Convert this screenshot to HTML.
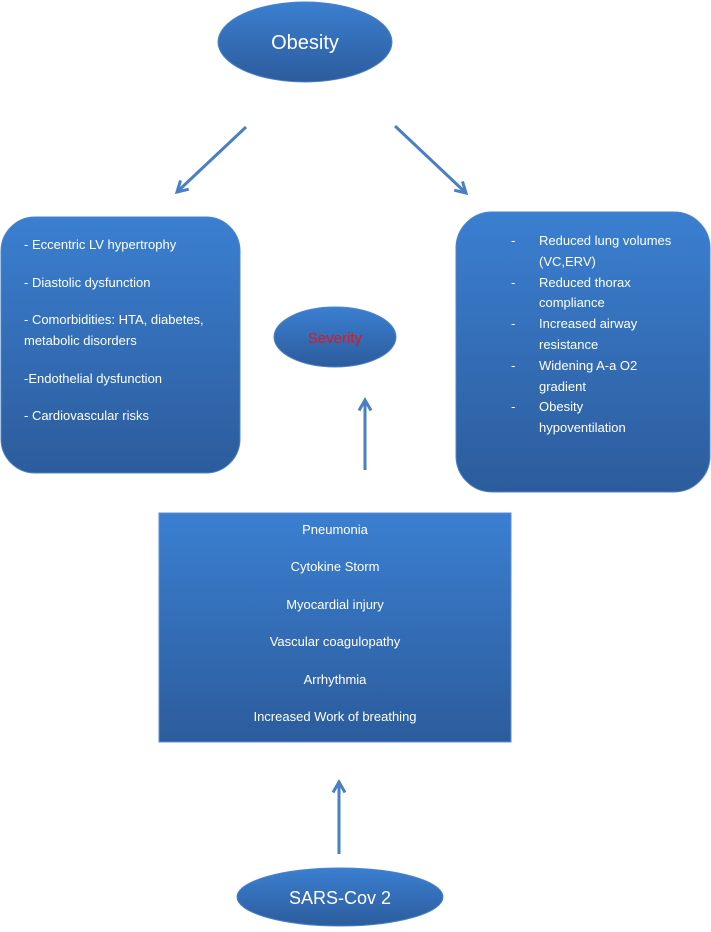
<!DOCTYPE html>
<html><head><meta charset="utf-8"><style>
body{margin:0;width:711px;height:927px;background:#fff;overflow:hidden}
svg text{font-family:"Liberation Sans",sans-serif;fill:#fff}
</style></head><body>
<svg width="711" height="927" viewBox="0 0 711 927" xmlns="http://www.w3.org/2000/svg">
<defs>
<linearGradient id="g" x1="0" y1="0" x2="0" y2="1">
<stop offset="0" stop-color="#3b7fd1"/><stop offset="1" stop-color="#2c5c9c"/>
</linearGradient>
<marker id="ah" viewBox="0 0 10 10" refX="8" refY="5" markerWidth="5" markerHeight="5" orient="auto">
<path d="M1,1 L8,5 L1,9" fill="none" stroke="#4a7fc4" stroke-width="2"/>
</marker>
</defs>
<g stroke="#4a7fc4" stroke-width="3" fill="none" marker-end="url(#ah)">
<line x1="246" y1="127" x2="177" y2="192"/>
<line x1="395" y1="126" x2="466" y2="193"/>
<line x1="365" y1="470" x2="365" y2="400"/>
<line x1="339" y1="854" x2="339" y2="782"/>
</g>
<ellipse cx="305" cy="42" rx="87" ry="40" fill="url(#g)" stroke="#4d84c8"/>
<text x="305" y="49" font-size="20" text-anchor="middle">Obesity</text>
<rect x="1" y="217" width="239" height="256" rx="34" fill="url(#g)" stroke="#4d84c8"/>
<g font-size="13">
<text x="24" y="249">- Eccentric LV hypertrophy</text>
<text x="24" y="287">- Diastolic dysfunction</text>
<text x="24" y="324">- Comorbidities: HTA, diabetes,</text>
<text x="24" y="345">metabolic disorders</text>
<text x="24" y="383">-Endothelial dysfunction</text>
<text x="24" y="420">- Cardiovascular risks</text>
</g>
<rect x="456" y="212" width="254" height="280" rx="36" fill="url(#g)" stroke="#4d84c8"/>
<g font-size="13">
<text x="511" y="245">-</text><text x="539" y="245">Reduced lung volumes</text>
<text x="539" y="266">(VC,ERV)</text>
<text x="511" y="287">-</text><text x="539" y="287">Reduced thorax</text>
<text x="539" y="307">compliance</text>
<text x="511" y="328">-</text><text x="539" y="328">Increased airway</text>
<text x="539" y="349">resistance</text>
<text x="511" y="370">-</text><text x="539" y="370">Widening A-a O2</text>
<text x="539" y="391">gradient</text>
<text x="511" y="411">-</text><text x="539" y="411">Obesity</text>
<text x="539" y="432">hypoventilation</text>
</g>
<ellipse cx="335" cy="337" rx="61" ry="30" fill="url(#g)" stroke="#4d84c8"/>
<text x="335" y="343" font-size="15" text-anchor="middle" style="fill:#e8141c">Severity</text>
<rect x="159" y="513" width="352" height="229" fill="url(#g)" stroke="#5a8fd0"/>
<g font-size="13" text-anchor="middle">
<text x="335" y="534">Pneumonia</text>
<text x="335" y="571">Cytokine Storm</text>
<text x="335" y="609">Myocardial injury</text>
<text x="335" y="646">Vascular coagulopathy</text>
<text x="335" y="684">Arrhythmia</text>
<text x="335" y="721">Increased Work of breathing</text>
</g>
<ellipse cx="340" cy="897" rx="103" ry="29" fill="url(#g)" stroke="#4d84c8"/>
<text x="340" y="904" font-size="18" text-anchor="middle">SARS-Cov 2</text>
</svg>
</body></html>
